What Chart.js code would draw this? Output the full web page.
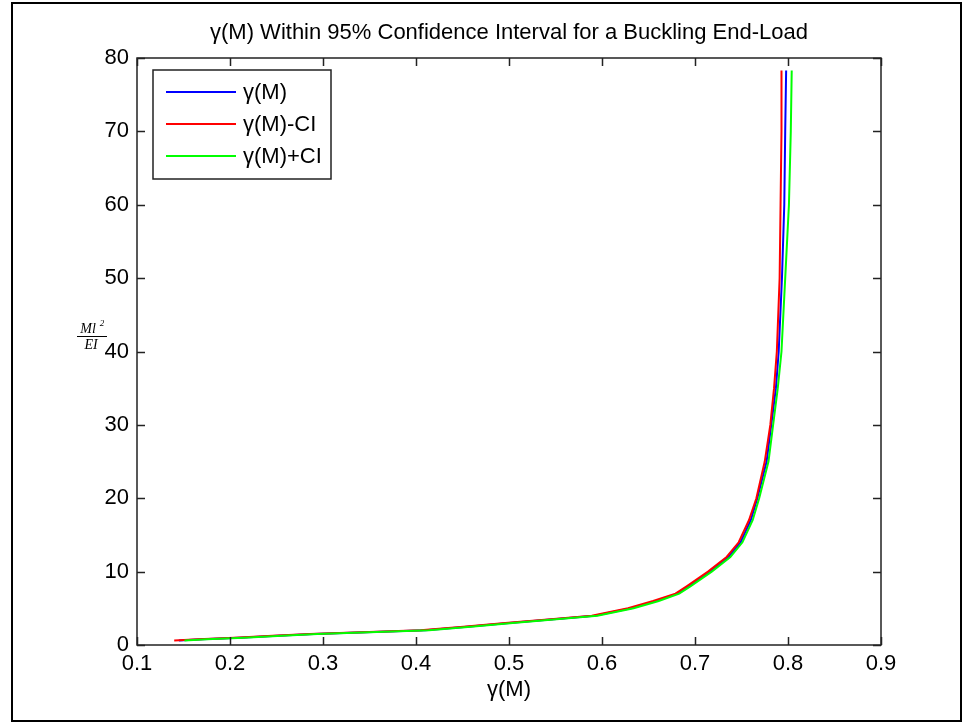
<!DOCTYPE html>
<html>
<head>
<meta charset="utf-8">
<script src="https://cdn.jsdelivr.net/npm/chart.js@4/dist/chart.umd.min.js"></script>
<style>
  html, body { margin: 0; padding: 0; background: #fff; }
  #wrap { width: 968px; height: 725px; position: relative; }
</style>
</head>
<body>
<div id="wrap"><canvas id="c" width="968" height="725"></canvas></div>
<script>
// Load parameter Ml^2/EI at which gamma(M) was evaluated
const loadValues = [0.6, 0.8, 1.0, 1.25, 1.5, 2.0, 2.5, 3.0, 3.5, 4.0, 5.0, 6.0, 7.0, 8.0, 10, 12, 14, 17, 20, 25, 30, 35, 40, 50, 60, 70, 78.3];

// gamma(M) estimate and the lower / upper 95% confidence bounds
const gammaMean  = [0.145, 0.170, 0.210, 0.251, 0.290, 0.410, 0.455, 0.500, 0.548, 0.592, 0.631, 0.658, 0.681, 0.693, 0.716, 0.736, 0.749, 0.760, 0.767, 0.777, 0.782, 0.787, 0.790, 0.7935, 0.796, 0.797, 0.798];
const gammaLower = [0.140, 0.166, 0.205, 0.246, 0.286, 0.405, 0.451, 0.496, 0.545, 0.589, 0.628, 0.655, 0.679, 0.691, 0.714, 0.734, 0.747, 0.758, 0.766, 0.775, 0.781, 0.785, 0.788, 0.791, 0.792, 0.793, 0.793];
const gammaUpper = [0.151, 0.175, 0.215, 0.256, 0.294, 0.414, 0.459, 0.504, 0.551, 0.595, 0.634, 0.661, 0.683, 0.695, 0.718, 0.738, 0.751, 0.762, 0.769, 0.779, 0.784, 0.789, 0.793, 0.797, 0.801, 0.803, 0.804];

const seriesLabels = ['γ(M)', 'γ(M)-CI', 'γ(M)+CI'];
const seriesColors = ['#0000ff', '#ff0000', '#00ff00'];

const xTicks = [0.1, 0.2, 0.3, 0.4, 0.5, 0.6, 0.7, 0.8, 0.9];
const yTicks = [0, 10, 20, 30, 40, 50, 60, 70, 80];

const titleText = 'γ(M) Within 95% Confidence Interval for a Buckling End-Load';
const xTitleText = 'γ(M)';

const FONT = '"Liberation Sans", Arial, Helvetica, sans-serif';
const FS = 22;

function pairs(xs) { return xs.map((x, i) => ({ x: x, y: loadValues[i] })); }

const seriesX = [gammaMean, gammaLower, gammaUpper];
const datasets = seriesX.map((xs, i) => ({
  label: seriesLabels[i],
  data: pairs(xs),
  borderColor: seriesColors[i],
  backgroundColor: seriesColors[i],
  borderWidth: 2,
  pointRadius: 0,
  showLine: true,
  tension: 0,
  order: 2 - i
}));

// Frame, inward ticks, titles, math label and boxed legend
const decor = {
  id: 'decor',
  afterDraw(chart) {
    const ctx = chart.ctx;
    const a = chart.chartArea;
    const xs = chart.scales.x, ys = chart.scales.y;
    ctx.save();

    // outer figure border
    ctx.strokeStyle = '#000';
    ctx.lineWidth = 2;
    ctx.strokeRect(12, 3, 949, 718);

    // axes box
    ctx.lineWidth = 1.5;
    ctx.strokeStyle = '#222';
    ctx.strokeRect(a.left, a.top, a.right - a.left, a.bottom - a.top);

    // inward tick marks on all four sides
    const TL = 8;
    ctx.lineWidth = 1.5;
    ctx.beginPath();
    xTicks.forEach(v => {
      const px = Math.round(xs.getPixelForValue(v)) + 0.5;
      ctx.moveTo(px, a.bottom); ctx.lineTo(px, a.bottom - TL);
      ctx.moveTo(px, a.top); ctx.lineTo(px, a.top + TL);
    });
    yTicks.forEach(v => {
      const py = Math.round(ys.getPixelForValue(v)) + 0.5;
      ctx.moveTo(a.left, py); ctx.lineTo(a.left + TL, py);
      ctx.moveTo(a.right, py); ctx.lineTo(a.right - TL, py);
    });
    ctx.stroke();

    const cx = (a.left + a.right) / 2;
    ctx.fillStyle = '#000';
    ctx.font = FS + 'px ' + FONT;
    ctx.textAlign = 'center';
    ctx.textBaseline = 'middle';
    ctx.fillText(titleText, cx, 33);
    ctx.fillText(xTitleText, cx, 690);

    // y label: M l^2 / E I
    ctx.font = 'italic 14px "Liberation Serif", "DejaVu Serif", serif';
    ctx.textAlign = 'center';
    ctx.textBaseline = 'alphabetic';
    ctx.fillText('Ml', 88, 333);
    ctx.font = 'italic 9px "Liberation Serif", "DejaVu Serif", serif';
    ctx.fillText('2', 102, 326);
    ctx.beginPath();
    ctx.lineWidth = 1;
    ctx.strokeStyle = '#000';
    ctx.moveTo(77, 336.5); ctx.lineTo(107, 336.5);
    ctx.stroke();
    ctx.font = 'italic 14px "Liberation Serif", "DejaVu Serif", serif';
    ctx.fillText('EI', 91, 349);

    // legend
    const lx = 153, ly = 70, lw = 178, lh = 109;
    ctx.fillStyle = '#fff';
    ctx.fillRect(lx, ly, lw, lh);
    ctx.lineWidth = 1.5;
    ctx.strokeStyle = '#222';
    ctx.strokeRect(lx, ly, lw, lh);
    ctx.font = FS + 'px ' + FONT;
    ctx.textAlign = 'left';
    ctx.textBaseline = 'middle';
    const rows = [92, 124, 156];
    chart.data.datasets.forEach((ds, i) => {
      ctx.strokeStyle = ds.borderColor;
      ctx.lineWidth = 2;
      ctx.beginPath();
      ctx.moveTo(166, rows[i]); ctx.lineTo(236, rows[i]);
      ctx.stroke();
      ctx.fillStyle = '#000';
      ctx.fillText(ds.label, 243, rows[i] + 1);
    });

    ctx.restore();
  }
};

new Chart(document.getElementById('c'), {
  type: 'scatter',
  data: { datasets: datasets },
  options: {
    responsive: false,
    animation: false,
    layout: { padding: { top: 58, right: 87, bottom: 0, left: 0 } },
    plugins: {
      legend: { display: false },
      title: { display: false },
      tooltip: { enabled: false }
    },
    scales: {
      x: {
        type: 'linear',
        min: 0.1, max: 0.9,
        afterFit(s) { s.height = 80; },
        afterBuildTicks(s) { s.ticks = xTicks.map(v => ({ value: v })); },
        grid: { display: false, drawTicks: false },
        border: { display: false },
        ticks: {
          color: '#000',
          font: { family: FONT, size: FS },
          padding: 6,
          maxRotation: 0,
          callback: v => v.toFixed(1)
        }
      },
      y: {
        type: 'linear',
        min: 0, max: 80,
        afterFit(s) { s.width = 137; },
        afterBuildTicks(s) { s.ticks = yTicks.map(v => ({ value: v })); },
        grid: { display: false, drawTicks: false },
        border: { display: false },
        ticks: {
          color: '#000',
          font: { family: FONT, size: FS },
          padding: 8,
          callback: v => String(v)
        }
      }
    }
  },
  plugins: [decor]
});
</script>
</body>
</html>
